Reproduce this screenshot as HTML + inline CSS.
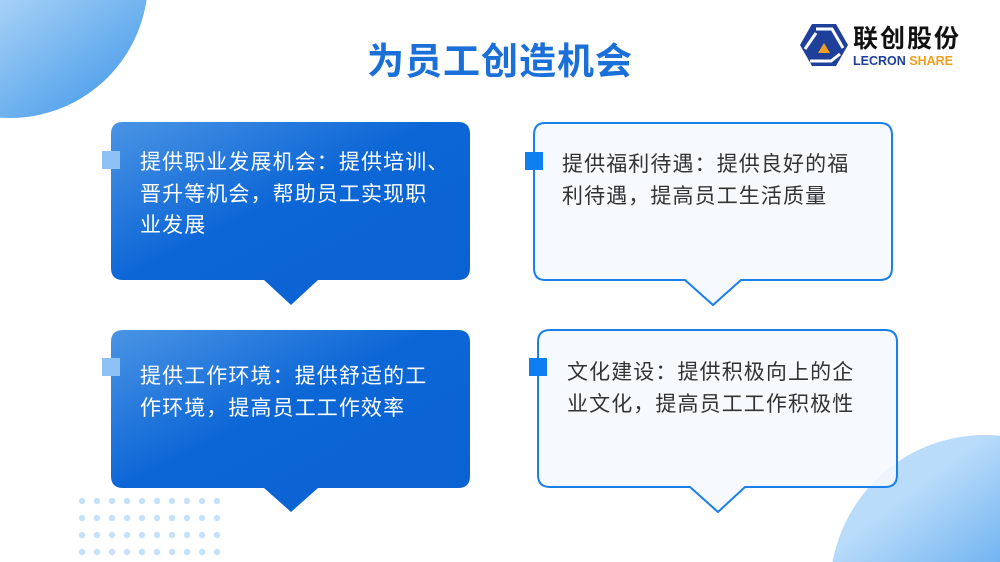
<!DOCTYPE html>
<html style="width:1000px;height:562px;overflow:hidden"><head><meta charset="utf-8"><style>
body{margin:0;width:1000px;height:562px;overflow:hidden;background:#fff;position:relative;font-family:"Liberation Sans","Noto Sans CJK SC",sans-serif}
.abs{position:absolute}
.t{position:absolute;font-size:21px;line-height:31.5px;letter-spacing:1.1px;white-space:nowrap}
</style></head><body>
<svg class="abs" style="left:0;top:0" width="1000" height="562">
<defs>
<linearGradient id="g" x1="0" y1="0" x2="1" y2="1"><stop offset="0" stop-color="#4a94e4"/><stop offset="0.45" stop-color="#0c66d6"/><stop offset="1" stop-color="#0b62d2"/></linearGradient>
<linearGradient id="c1" x1="0.2" y1="0.1" x2="0.8" y2="0.9"><stop offset="0.2" stop-color="#d6ecff"/><stop offset="0.6" stop-color="#9ccbf5"/><stop offset="1" stop-color="#5aa6ec"/></linearGradient>
<linearGradient id="c2" x1="0.2" y1="0.1" x2="0.8" y2="0.9"><stop offset="0.1" stop-color="#b9dcfa"/><stop offset="0.5" stop-color="#6bb0f0"/><stop offset="0.9" stop-color="#0a6fde"/></linearGradient>
</defs>
<circle cx="10" cy="-20" r="138" fill="url(#c1)"/>
<circle cx="985" cy="590" r="155" fill="url(#c2)"/>
<path d="M123 122H458Q470 122 470 134V268Q470 280 458 280H318L291 305L264 280H123Q111 280 111 268V134Q111 122 123 122Z" fill="url(#g)"/>
<path d="M123 330H458Q470 330 470 342V476Q470 488 458 488H318L291 512L264 488H123Q111 488 111 476V342Q111 330 123 330Z" fill="url(#g)"/>
<path d="M545 123H880Q892 123 892 135V268Q892 280 880 280H741L713 305L685 280H545Q534 280 534 268V135Q534 123 545 123Z" fill="#f5f9fe" fill-opacity="0.9" stroke="#1a7fe8" stroke-width="2"/>
<path d="M550 330H885Q897 330 897 342V475Q897 487 885 487H745L718 512L690 487H550Q538 487 538 475V342Q538 330 550 330Z" fill="#f5f9fe" fill-opacity="0.85" stroke="#1a7fe8" stroke-width="2"/>
<rect x="102" y="151" width="18" height="18" fill="#8ec2f7"/>
<rect x="102" y="358" width="18" height="18" fill="#8ec2f7"/>
<rect x="525" y="152" width="18" height="18" fill="#0d7ff0"/>
<rect x="529" y="358" width="18" height="18" fill="#0d7ff0"/>
<g fill="#c6e1fb">
<circle cx="82" cy="501" r="3.2"/><circle cx="97" cy="501" r="3.2"/><circle cx="112" cy="501" r="3.2"/><circle cx="127" cy="501" r="3.2"/><circle cx="142" cy="501" r="3.2"/><circle cx="157" cy="501" r="3.2"/><circle cx="172" cy="501" r="3.2"/><circle cx="187" cy="501" r="3.2"/><circle cx="202" cy="501" r="3.2"/><circle cx="217" cy="501" r="3.2"/>
<circle cx="82" cy="518" r="3.2"/><circle cx="97" cy="518" r="3.2"/><circle cx="112" cy="518" r="3.2"/><circle cx="127" cy="518" r="3.2"/><circle cx="142" cy="518" r="3.2"/><circle cx="157" cy="518" r="3.2"/><circle cx="172" cy="518" r="3.2"/><circle cx="187" cy="518" r="3.2"/><circle cx="202" cy="518" r="3.2"/><circle cx="217" cy="518" r="3.2"/>
<circle cx="82" cy="535" r="3.2"/><circle cx="97" cy="535" r="3.2"/><circle cx="112" cy="535" r="3.2"/><circle cx="127" cy="535" r="3.2"/><circle cx="142" cy="535" r="3.2"/><circle cx="157" cy="535" r="3.2"/><circle cx="172" cy="535" r="3.2"/><circle cx="187" cy="535" r="3.2"/><circle cx="202" cy="535" r="3.2"/><circle cx="217" cy="535" r="3.2"/>
<circle cx="82" cy="552" r="3.2"/><circle cx="97" cy="552" r="3.2"/><circle cx="112" cy="552" r="3.2"/><circle cx="127" cy="552" r="3.2"/><circle cx="142" cy="552" r="3.2"/><circle cx="157" cy="552" r="3.2"/><circle cx="172" cy="552" r="3.2"/><circle cx="187" cy="552" r="3.2"/><circle cx="202" cy="552" r="3.2"/><circle cx="217" cy="552" r="3.2"/>
</g>
<g transform="translate(824,45)">
<polygon points="-12,-21 12,-21 24,0 12,21 -12,21 -24,0" fill="#1e3f9a"/>
<path d="M-8,-16 L8,-16 L19,3" stroke="#fff" stroke-width="3" fill="none"/>
<path d="M16,9 L7,16 L-14,16" stroke="#fff" stroke-width="3" fill="none"/>
<path d="M-19,4 L-8,-12" stroke="#fff" stroke-width="3" fill="none"/>
<polygon points="0,-2 6,8 -6,8" fill="#f0a020"/>
</g>
</svg>
<div class="abs" style="left:0;width:1000px;top:38px;text-align:center;font-size:37px;font-weight:bold;color:#1a70d8;letter-spacing:1px;line-height:48px">为员工创造机会</div>
<div class="abs" style="left:853px;top:25px;font-size:25px;font-weight:bold;color:#111;letter-spacing:2px;line-height:28px">联创股份</div>
<div class="abs" style="left:853px;top:54px;font-size:12.5px;font-weight:bold;line-height:14px;white-space:nowrap"><span style="color:#1e3f9a">LECRON</span> <span style="color:#f0a020">SHARE</span></div>
<div class="t" style="left:140px;top:147px;color:#fff">提供职业发展机会：提供培训、<br>晋升等机会，帮助员工实现职<br>业发展</div>
<div class="t" style="left:140px;top:361px;color:#fff">提供工作环境：提供舒适的工<br>作环境，提高员工工作效率</div>
<div class="t" style="left:562px;top:149px;color:#333">提供福利待遇：提供良好的福<br>利待遇，提高员工生活质量</div>
<div class="t" style="left:567px;top:357px;color:#333">文化建设：提供积极向上的企<br>业文化，提高员工工作积极性</div>
</body></html>
